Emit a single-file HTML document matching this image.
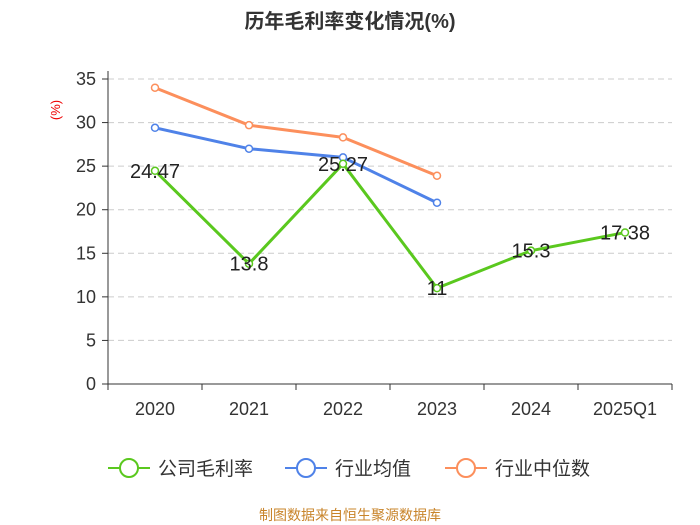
<!DOCTYPE html>
<html><head><meta charset="utf-8"><style>
body{margin:0;background:#fff;}
svg{display:block;font-family:"Liberation Sans","Noto Sans CJK SC",sans-serif;}
</style></head><body>
<svg width="700" height="525">
<text x="350" y="28" text-anchor="middle" font-size="20" font-weight="bold" fill="#333">历年毛利率变化情况(%)</text>
<text transform="translate(60,110) rotate(-90)" text-anchor="middle" font-size="13" fill="#e00">(%)</text>
<g id="grid"></g><g id="axes"></g><g id="series"></g><g id="labels"></g>
<g id="legend"></g>
<text x="350" y="520" text-anchor="middle" font-size="14" fill="#c8842a">制图数据来自恒生聚源数据库</text>
</svg>
<script>
const categories=["2020","2021","2022","2023","2024","2025Q1"];
const companyMargin=[24.47,13.8,25.27,11,15.3,17.38];
const industryAvg=[29.4,27.0,26.0,20.8];
const industryMedian=[34.0,29.7,28.3,23.9];
const yTicks=[0,5,10,15,20,25,30,35];
const NS="http://www.w3.org/2000/svg";
const L=108,R=672,T=79,B=384,yMax=35;
const bw=(R-L)/categories.length;
const x=i=>L+bw*(i+0.5);
const y=v=>B-(v/yMax)*(B-T);
function mk(tag,attrs,parent,text){const e=document.createElementNS(NS,tag);for(const k in attrs)e.setAttribute(k,attrs[k]);if(text!==undefined)e.textContent=text;document.getElementById(parent).appendChild(e);return e;}
yTicks.forEach(t=>{
 if(t>0){const g=mk('line',{x1:L,x2:R,y1:y(t),y2:y(t),stroke:'#ccc','stroke-dasharray':'6,4'},'grid');
 
 }
 const tk=mk('line',{x1:L-6,x2:L,y1:y(t),y2:y(t),stroke:'#333'},'axes');
 
 
 const lb=mk('text',{x:L-12,y:y(t)+6,'text-anchor':'end','font-size':18,fill:'#333'},'axes',t);
 
 
});
const ya=mk('line',{x1:L,x2:L,y1:T-8,y2:B,stroke:'#333'},'axes');


const xa=mk('line',{x1:L,x2:R,y1:B,y2:B,stroke:'#333'},'axes');


categories.forEach((c,i)=>{
 const tk=mk('line',{x1:L+bw*i,x2:L+bw*i,y1:B,y2:B+6,stroke:'#333'},'axes');
 
 
 const lb=mk('text',{x:x(i),y:B+31,'text-anchor':'middle','font-size':18,fill:'#333'},'axes',c);
 
 
});
const tkE=mk('line',{x1:R,x2:R,y1:B,y2:B+6,stroke:'#333'},'axes');


function series(data,color,name){
 const p=mk('polyline',{points:data.map((v,i)=>x(i)+','+y(v)).join(' '),fill:'none',stroke:color,'stroke-width':3,'stroke-linejoin':'round'},'series');
 
 
 data.forEach((v,i)=>{const c=mk('circle',{cx:x(i),cy:y(v),r:3.5,fill:'#fff',stroke:color,'stroke-width':1.5},'series');
 
 });
}
series(industryMedian,'#fc8f5c','industry-median');
series(industryAvg,'#4f82e8','industry-average');
series(companyMargin,'#5ac81e','company-margin');
companyMargin.forEach((v,i)=>{
 const t=mk('text',{x:x(i),y:y(v)+7,'text-anchor':'middle','font-size':20,fill:'#222'},'labels',String(v));
 
 
});
const leg=[["公司毛利率","#5ac81e",108],["行业均值","#4f82e8",285],["行业中位数","#fc8f5c",445]];
leg.forEach(([n,c,lx])=>{
 const l=mk('line',{x1:lx,x2:lx+42,y1:468,y2:468,stroke:c,'stroke-width':2},'legend');
 
 
 const ci=mk('circle',{cx:lx+21,cy:468,r:9,fill:'#fff',stroke:c,'stroke-width':2},'legend');
 
 
 const t=mk('text',{x:lx+50,y:475,'font-size':19,fill:'#333'},'legend',n);
 
 
});
</script>
</body></html>
